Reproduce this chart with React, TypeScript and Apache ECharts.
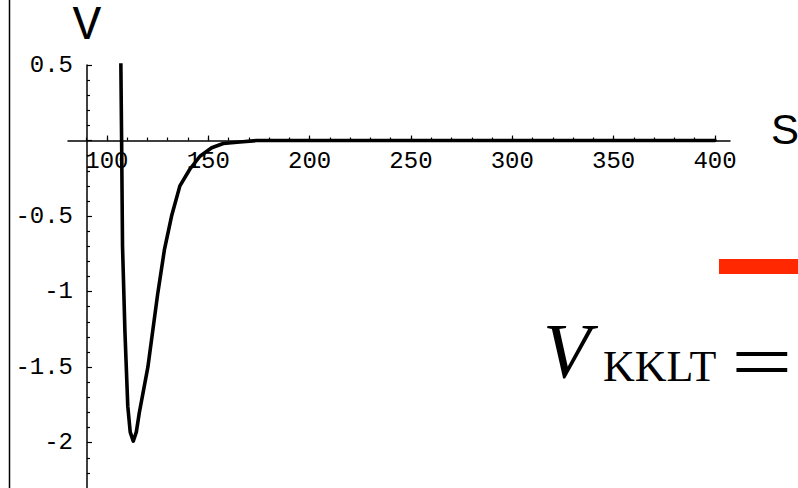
import React, { useEffect, useRef } from "react";
import * as echarts from "echarts";

// Curve samples (s, V)
const sValues = [106.85, 107.25, 107.7, 108.9, 110.3, 111.5, 113.0, 114.5, 116.0, 120.2, 125.0, 128.4, 131.9, 136.0, 140.9, 145.9, 151.7, 157.4, 165.6, 173.9, 200, 250, 300, 350, 400];
const vValues = [0.55, 0, -0.70, -1.27, -1.76, -1.93, -1.99, -1.93, -1.80, -1.50, -1.02, -0.72, -0.50, -0.30, -0.19, -0.104, -0.048, -0.02, -0.01, 0, 0, 0, 0, 0, 0];

// Axis ticks
const xMajorTicks = [100, 150, 200, 250, 300, 350, 400];
const xMinorTicks = [90, 100, 110, 120, 130, 140, 150, 160, 170, 180, 190, 200, 210, 220, 230, 240, 250, 260, 270, 280, 290, 300, 310, 320, 330, 340, 350, 360, 370, 380, 390, 400];
const yMajorTicks = [0.5, 0, -0.5, -1, -1.5, -2];
const yTickLabels = [0.5, -0.5, -1, -1.5, -2];
const yMinorTicks = [0.4, 0.3, 0.2, 0.1, -0.1, -0.2, -0.3, -0.4, -0.6, -0.7, -0.8, -0.9, -1.1, -1.2, -1.3, -1.4, -1.6, -1.7, -1.8, -1.9, -2.1, -2.2];

const X_MIN = 80.8;
const X_MAX = 407.4;
const Y_MIN = -2.3;
const Y_MAX = 0.5;

const GRID_TOP = 65;
const GRID_H = 423;
// pixel distance from grid bottom up to V = 0
const X_AXIS_OFFSET = -(GRID_H * (0 - Y_MIN)) / (Y_MAX - Y_MIN);

const MONO = "'Liberation Mono', 'DejaVu Sans Mono', monospace";
const SERIF = "'Liberation Serif', 'DejaVu Serif', serif";

export default function App() {
  const ref = useRef<HTMLDivElement>(null);

  useEffect(() => {
    if (!ref.current) return;
    const chart = echarts.init(ref.current, undefined, { renderer: "svg" });
    const fmt = (v: number) => String(v);
    chart.setOption({
      animation: false,
      backgroundColor: "#ffffff",
      grid: {
        left: 68,
        width: 662,
        top: GRID_TOP,
        height: GRID_H,
        containLabel: false,
        outerBoundsMode: "none",
      },
      xAxis: [
        {
          type: "value",
          min: X_MIN,
          max: X_MAX,
          position: "bottom",
          offset: X_AXIS_OFFSET,
          name: "S",
          nameLocation: "end",
          nameGap: 41,
          nameTextStyle: {
            fontFamily: "'Liberation Sans', Arial, sans-serif",
            fontSize: 42,
            lineHeight: 22,
            color: "#000",
            align: "left",
            verticalAlign: "bottom",
          },
          axisLine: { show: true, onZero: false, lineStyle: { color: "#000", width: 1.5 } },
          axisTick: { show: true, inside: true, length: 5, customValues: xMajorTicks, lineStyle: { color: "#000", width: 1.2 } },
          axisLabel: {
            show: true,
            customValues: xMajorTicks,
            formatter: fmt,
            fontFamily: MONO,
            fontSize: 24,
            color: "#000",
            margin: 9,
          },
          splitLine: { show: false },
        },
        {
          type: "value",
          min: X_MIN,
          max: X_MAX,
          position: "bottom",
          offset: X_AXIS_OFFSET,
          axisLine: { show: false, onZero: false },
          axisTick: { show: true, inside: true, length: 3, customValues: xMinorTicks, lineStyle: { color: "#000", width: 1.2 } },
          axisLabel: { show: false },
          splitLine: { show: false },
        },
      ],
      yAxis: [
        {
          type: "value",
          min: Y_MIN,
          max: Y_MAX,
          position: "left",
          offset: -19,
          name: "V",
          nameLocation: "end",
          nameGap: 39,
          nameTextStyle: {
            fontFamily: MONO,
            fontSize: 48,
            color: "#000",
            align: "center",
            verticalAlign: "middle",
          },
          axisLine: { show: true, onZero: false, lineStyle: { color: "#000", width: 1.5 } },
          axisTick: { show: true, inside: true, length: 5, customValues: yMajorTicks, lineStyle: { color: "#000", width: 1.2 } },
          axisLabel: {
            show: true,
            customValues: yTickLabels,
            formatter: fmt,
            fontFamily: MONO,
            fontSize: 24,
            color: "#000",
            margin: 14,
          },
          splitLine: { show: false },
        },
        {
          type: "value",
          min: Y_MIN,
          max: Y_MAX,
          position: "left",
          offset: -19,
          axisLine: { show: false, onZero: false },
          axisTick: { show: true, inside: true, length: 3, customValues: yMinorTicks, lineStyle: { color: "#000", width: 1.2 } },
          axisLabel: { show: false },
          splitLine: { show: false },
        },
      ],
      series: [
        {
          type: "line",
          xAxisIndex: 0,
          yAxisIndex: 0,
          data: sValues.map((s, i) => [s, vValues[i]]),
          showSymbol: false,
          smooth: false,
          clip: true,
          lineStyle: { color: "#000", width: 3.6, join: "round", cap: "round" },
        },
      ],
      graphic: [
        {
          type: "line",
          shape: { x1: 9.5, y1: 0, x2: 9.5, y2: 488 },
          style: { stroke: "#000", lineWidth: 1.5 },
        },
        {
          type: "rect",
          shape: { x: 719, y: 259, width: 80, height: 15 },
          style: { fill: "#ff2800" },
        },
        {
          type: "text",
          x: 543,
          y: 350,
          style: {
            text: "V",
            fontFamily: SERIF,
            fontStyle: "italic",
            fontSize: 78,
            fill: "#000",
            align: "left",
            verticalAlign: "middle",
          },
        },
        {
          type: "text",
          x: 603,
          y: 366,
          style: {
            text: "KKLT",
            fontFamily: SERIF,
            fontSize: 44,
            fill: "#000",
            align: "left",
            verticalAlign: "middle",
          },
        },
        {
          type: "text",
          x: 731,
          y: 362,
          scaleX: 1.4,
          style: {
            text: "=",
            fontFamily: SERIF,
            fontSize: 78,
            fill: "#000",
            align: "left",
            verticalAlign: "middle",
          },
        },
      ],
    });
    return () => chart.dispose();
  }, []);

  return (
    <div
      ref={ref}
      style={{ position: "fixed", left: 0, top: 0, width: 798, height: 488, background: "#fff" }}
    />
  );
}
